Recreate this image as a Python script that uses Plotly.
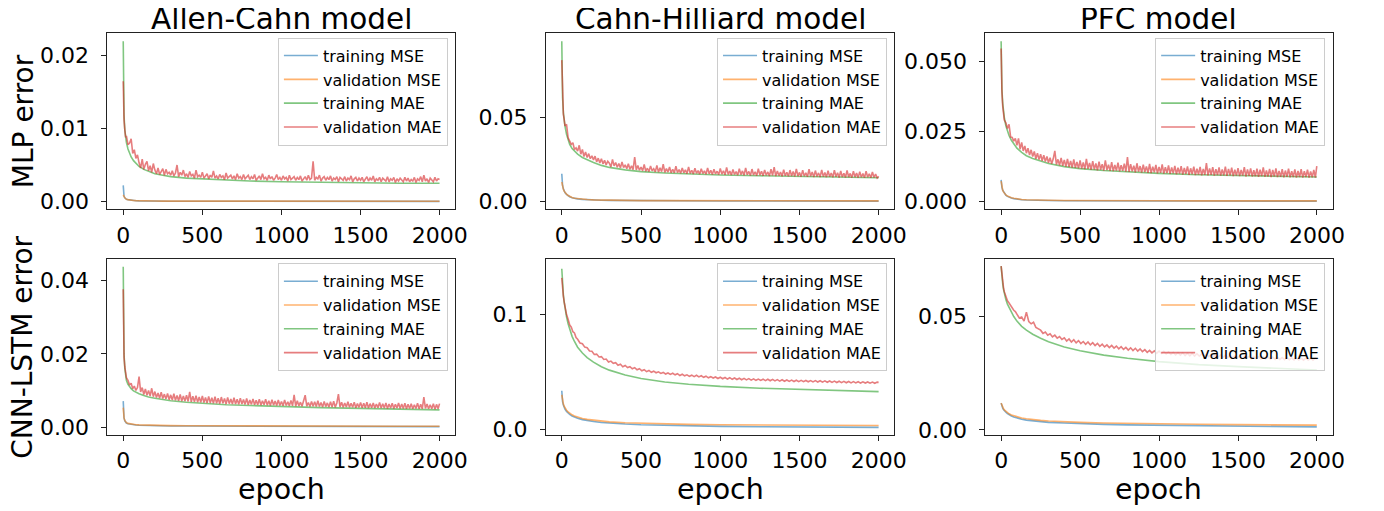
import plotly.graph_objects as go

# ---------------- data ----------------
epochs_smooth = [0, 2, 5, 10, 15, 20, 30, 40, 50, 65, 80, 100, 130, 160, 200, 250,
                 300, 400, 500, 650, 800, 1000, 1250, 1500, 1750, 1999]
epochs_early = [0, 2, 5, 10, 15, 20, 30, 40, 50, 60, 70, 80, 90]
epochs_dense = epochs_early + list(range(100, 2000, 10)) + [1999]
epochs_noisy = epochs_early + list(range(100, 2000, 15)) + [1999]

col_titles = ["Allen-Cahn model", "Cahn-Hilliard model", "PFC model"]
row_labels = ["MLP error", "CNN-LSTM error"]
series_names = ["training MSE", "validation MSE", "training MAE", "validation MAE"]
x_ticks = [0, 500, 1000, 1500, 2000]
x_tick_text = ["0", "500", "1000", "1500", "2000"]

# Allen-Cahn, MLP
ac_mlp_train_mse = [0.0022, 0.0009, 0.0007, 0.0005, 0.0004, 0.0003, 0.00025, 0.0002, 0.00016, 0.00012, 0.0001, 0.00008, 0.00006,
                    0.00005, 0.00004, 0.00003, 0.00003, 0.00002, 0.00002, 0.00002, 0.00002, 0.00001, 0.00001, 0.00001, 0.00001, 0.00001]
ac_mlp_val_mse = [0.0009, 0.0008, 0.0006, 0.0005, 0.0004, 0.0003, 0.00025, 0.0002, 0.00017, 0.00013, 0.00011, 0.00009, 0.00007,
                  0.00006, 0.00005, 0.00004, 0.00004, 0.00003, 0.00003, 0.00003, 0.00002, 0.00002, 0.00002, 0.00002, 0.00002, 0.00002]
ac_mlp_train_mae = [0.0220, 0.0150, 0.0118, 0.0098, 0.0088, 0.0081, 0.0072, 0.0066, 0.0061, 0.0056, 0.0052, 0.0048, 0.0044,
                    0.0041, 0.0038, 0.0036, 0.0034, 0.0032, 0.0031, 0.0029, 0.0028, 0.0027, 0.0026, 0.0026, 0.0025, 0.0025]
ac_mlp_val_mae = [0.0165, 0.0125, 0.0112, 0.0098, 0.0088, 0.0090, 0.0078, 0.0080, 0.0086, 0.0066, 0.0071, 0.0059, 0.0064,
                  0.0053, 0.0046, 0.0058, 0.0044, 0.0051, 0.0055, 0.0042, 0.0049, 0.0040, 0.0052,
                  0.0043, 0.0038, 0.0046, 0.0037, 0.0041, 0.0045, 0.0036, 0.0044, 0.0038, 0.0040,
                  0.0036, 0.0042, 0.0035, 0.0039, 0.0050, 0.0034, 0.0040, 0.0036, 0.0043, 0.0034,
                  0.0038, 0.0033, 0.0041, 0.0035, 0.0037, 0.0032, 0.0043, 0.0034, 0.0036, 0.0033,
                  0.0040, 0.0032, 0.0035, 0.0038, 0.0031, 0.0036, 0.0033, 0.0042, 0.0032, 0.0035,
                  0.0031, 0.0037, 0.0033, 0.0035, 0.0030, 0.0039, 0.0032, 0.0034, 0.0036, 0.0031,
                  0.0035, 0.0030, 0.0038, 0.0032, 0.0034, 0.0030, 0.0037, 0.0031, 0.0033, 0.0036,
                  0.0030, 0.0034, 0.0031, 0.0037, 0.0029, 0.0033, 0.0035, 0.0030, 0.0038, 0.0031,
                  0.0033, 0.0029, 0.0036, 0.0031, 0.0034, 0.0029, 0.0032, 0.0037, 0.0030, 0.0033,
                  0.0029, 0.0035, 0.0031, 0.0033, 0.0028, 0.0036, 0.0030, 0.0032, 0.0034, 0.0029,
                  0.0033, 0.0030, 0.0035, 0.0028, 0.0032, 0.0034, 0.0029, 0.0036, 0.0030, 0.0032,
                  0.0055, 0.0029, 0.0033, 0.0031, 0.0036, 0.0028, 0.0032, 0.0034, 0.0029, 0.0033,
                  0.0030, 0.0035, 0.0028, 0.0032, 0.0030, 0.0034, 0.0027, 0.0033, 0.0031, 0.0029,
                  0.0034, 0.0028, 0.0032, 0.0030, 0.0035, 0.0027, 0.0031, 0.0033, 0.0028, 0.0032,
                  0.0029, 0.0033, 0.0027, 0.0031, 0.0034, 0.0028, 0.0032, 0.0029, 0.0035, 0.0027,
                  0.0031, 0.0029, 0.0033, 0.0027, 0.0032, 0.0030, 0.0028, 0.0034, 0.0027, 0.0031,
                  0.0029, 0.0033, 0.0026, 0.0031, 0.0028, 0.0032, 0.0030, 0.0027, 0.0033, 0.0028,
                  0.0032, 0.0027, 0.0030, 0.0028, 0.0033, 0.0026, 0.0031, 0.0029, 0.0034, 0.0027,
                  0.0036, 0.0028, 0.0031, 0.0026, 0.0032, 0.0029, 0.0027, 0.0033, 0.0028, 0.0031,
                  0.0030]

# Cahn-Hilliard, MLP
ch_mlp_train_mse = [0.0165, 0.0120, 0.0095, 0.0075, 0.0062, 0.0053, 0.0042, 0.0034, 0.0028, 0.0022, 0.0018, 0.0015, 0.0012,
                    0.0010, 0.0008, 0.0007, 0.0006, 0.0005, 0.0004, 0.00035, 0.0003, 0.00028, 0.00025, 0.00022, 0.0002, 0.0002]
ch_mlp_val_mse = [0.0116, 0.0105, 0.0090, 0.0072, 0.0061, 0.0053, 0.0043, 0.0035, 0.0029, 0.0023, 0.0019, 0.0016, 0.0013,
                  0.0011, 0.0009, 0.0008, 0.0007, 0.0006, 0.0005, 0.00045, 0.0004, 0.00038, 0.00035, 0.00033, 0.0003, 0.0003]
ch_mlp_train_mae = [0.0956, 0.075, 0.062, 0.053, 0.048, 0.045, 0.040, 0.037, 0.034, 0.0315, 0.0298, 0.0282, 0.0262,
                    0.0247, 0.0232, 0.0215, 0.0203, 0.0188, 0.0178, 0.0170, 0.0164, 0.0158, 0.0153, 0.0149, 0.0145, 0.0141]
ch_mlp_val_mae = [0.0843, 0.072, 0.061, 0.052, 0.049, 0.045, 0.046, 0.038, 0.036, 0.034, 0.035, 0.031, 0.032,
                  0.0300, 0.0335, 0.0282, 0.0310, 0.0268, 0.0295, 0.0262, 0.0285, 0.0255, 0.0272,
                  0.0248, 0.0270, 0.0236, 0.0258, 0.0230, 0.0255, 0.0224, 0.0245, 0.0218, 0.0240,
                  0.0228, 0.0206, 0.0250, 0.0212, 0.0232, 0.0204, 0.0226, 0.0200, 0.0235, 0.0202,
                  0.0218, 0.0195, 0.0225, 0.0192, 0.0212, 0.0190, 0.0265, 0.0188, 0.0215, 0.0186,
                  0.0205, 0.0182, 0.0220, 0.0180, 0.0198, 0.0178, 0.0212, 0.0183, 0.0195, 0.0176,
                  0.0215, 0.0175, 0.0200, 0.0178, 0.0222, 0.0173, 0.0196, 0.0175, 0.0205, 0.0171,
                  0.0192, 0.0170, 0.0210, 0.0172, 0.0190, 0.0168, 0.0200, 0.0171, 0.0188, 0.0166,
                  0.0206, 0.0167, 0.0186, 0.0164, 0.0198, 0.0168, 0.0184, 0.0163, 0.0195, 0.0166,
                  0.0182, 0.0162, 0.0200, 0.0165, 0.0185, 0.0161, 0.0192, 0.0164, 0.0180, 0.0160,
                  0.0197, 0.0163, 0.0183, 0.0159, 0.0203, 0.0162, 0.0181, 0.0158, 0.0190, 0.0161,
                  0.0178, 0.0157, 0.0195, 0.0160, 0.0182, 0.0156, 0.0200, 0.0159, 0.0179, 0.0155,
                  0.0193, 0.0158, 0.0177, 0.0154, 0.0196, 0.0157, 0.0180, 0.0153, 0.0188, 0.0156,
                  0.0176, 0.0152, 0.0192, 0.0155, 0.0205, 0.0151, 0.0182, 0.0154, 0.0175, 0.0150,
                  0.0190, 0.0153, 0.0174, 0.0150, 0.0187, 0.0152, 0.0178, 0.0149, 0.0194, 0.0151,
                  0.0173, 0.0148, 0.0186, 0.0151, 0.0171, 0.0147, 0.0192, 0.0150, 0.0175, 0.0146,
                  0.0184, 0.0149, 0.0170, 0.0146, 0.0188, 0.0148, 0.0172, 0.0145, 0.0183, 0.0147,
                  0.0169, 0.0144, 0.0186, 0.0147, 0.0171, 0.0143, 0.0182, 0.0146, 0.0168, 0.0143,
                  0.0185, 0.0145, 0.0167, 0.0142, 0.0180, 0.0145, 0.0170, 0.0142, 0.0178, 0.0144,
                  0.0166, 0.0141, 0.0181, 0.0144, 0.0165, 0.0141, 0.0176, 0.0143, 0.0163, 0.0140,
                  0.0150]

# PFC, MLP
pfc_mlp_train_mse = [0.0077, 0.0062, 0.0050, 0.0040, 0.0034, 0.0029, 0.0022, 0.0018, 0.0015, 0.0012, 0.0010, 0.0008, 0.0006,
                     0.0005, 0.0004, 0.00035, 0.0003, 0.00025, 0.0002, 0.00018, 0.00015, 0.00013, 0.00012, 0.0001, 0.0001, 0.0001]
pfc_mlp_val_mse = [0.0072, 0.0060, 0.0049, 0.0040, 0.0034, 0.0030, 0.0023, 0.0019, 0.0016, 0.0013, 0.0011, 0.0009, 0.0007,
                   0.0006, 0.0005, 0.00045, 0.0004, 0.00035, 0.0003, 0.00028, 0.00025, 0.00023, 0.0002, 0.0002, 0.00018, 0.00018]
pfc_mlp_train_mae = [0.0571, 0.047, 0.040, 0.035, 0.032, 0.030, 0.027, 0.0250, 0.0235, 0.0218, 0.0204, 0.0190, 0.0175,
                     0.0163, 0.0153, 0.0143, 0.0135, 0.0124, 0.0117, 0.0110, 0.0105, 0.0100, 0.0095, 0.0092, 0.0089, 0.0087]
pfc_mlp_val_mae = [0.0545, 0.046, 0.039, 0.034, 0.032, 0.029, 0.028, 0.026, 0.0275, 0.0230, 0.0228, 0.0215, 0.0225,
                   0.0200, 0.0225, 0.0186, 0.0210, 0.0180, 0.0198, 0.0172, 0.0190, 0.0165, 0.0184,
                   0.0160, 0.0178, 0.0152, 0.0172, 0.0149, 0.0168, 0.0145, 0.0165, 0.0142, 0.0160,
                   0.0138, 0.0156, 0.0134, 0.0152, 0.0180, 0.0132, 0.0150, 0.0129, 0.0155, 0.0127,
                   0.0148, 0.0124, 0.0152, 0.0123, 0.0144, 0.0121, 0.0150, 0.0120, 0.0141, 0.0118,
                   0.0146, 0.0117, 0.0139, 0.0115, 0.0152, 0.0116, 0.0137, 0.0113, 0.0144, 0.0114,
                   0.0135, 0.0111, 0.0142, 0.0113, 0.0133, 0.0110, 0.0146, 0.0112, 0.0131, 0.0109,
                   0.0140, 0.0108, 0.0130, 0.0110, 0.0138, 0.0107, 0.0129, 0.0109, 0.0135, 0.0106,
                   0.0158, 0.0105, 0.0133, 0.0107, 0.0127, 0.0104, 0.0136, 0.0106, 0.0126, 0.0103,
                   0.0131, 0.0105, 0.0125, 0.0102, 0.0134, 0.0101, 0.0124, 0.0104, 0.0130, 0.0100,
                   0.0123, 0.0102, 0.0132, 0.0099, 0.0122, 0.0101, 0.0128, 0.0098, 0.0121, 0.0100,
                   0.0127, 0.0097, 0.0120, 0.0099, 0.0126, 0.0096, 0.0119, 0.0098, 0.0125, 0.0095,
                   0.0118, 0.0097, 0.0124, 0.0094, 0.0117, 0.0096, 0.0123, 0.0093, 0.0116, 0.0095,
                   0.0137, 0.0093, 0.0118, 0.0095, 0.0122, 0.0092, 0.0115, 0.0094, 0.0121, 0.0092,
                   0.0114, 0.0093, 0.0124, 0.0091, 0.0116, 0.0093, 0.0120, 0.0090, 0.0113, 0.0092,
                   0.0119, 0.0090, 0.0112, 0.0092, 0.0122, 0.0089, 0.0114, 0.0091, 0.0118, 0.0089,
                   0.0111, 0.0090, 0.0117, 0.0088, 0.0113, 0.0090, 0.0121, 0.0088, 0.0110, 0.0089,
                   0.0116, 0.0087, 0.0112, 0.0089, 0.0118, 0.0087, 0.0109, 0.0088, 0.0115, 0.0086,
                   0.0110, 0.0088, 0.0117, 0.0086, 0.0108, 0.0087, 0.0114, 0.0085, 0.0109, 0.0087,
                   0.0115, 0.0085, 0.0108, 0.0087, 0.0113, 0.0085, 0.0107, 0.0086, 0.0112, 0.0085,
                   0.0126]

# Allen-Cahn, CNN-LSTM
ac_cnn_train_mse = [0.0071, 0.0040, 0.0025, 0.0017, 0.0013, 0.0011, 0.0009, 0.0008, 0.0007, 0.0006, 0.00055, 0.0005, 0.00045,
                    0.0004, 0.00036, 0.00033, 0.0003, 0.00027, 0.00025, 0.00022, 0.0002, 0.00018, 0.00016, 0.00015, 0.00014, 0.00013]
ac_cnn_val_mse = [0.0053, 0.0038, 0.0025, 0.0018, 0.0014, 0.0012, 0.0010, 0.0009, 0.0008, 0.0007, 0.00065, 0.0006, 0.00055,
                  0.0005, 0.00046, 0.00043, 0.0004, 0.00037, 0.00035, 0.00032, 0.0003, 0.00028, 0.00026, 0.00025, 0.00024, 0.00023]
ac_cnn_train_mae = [0.0438, 0.028, 0.020, 0.0160, 0.0140, 0.0128, 0.0117, 0.0110, 0.0105, 0.0099, 0.0095, 0.0091, 0.0086,
                    0.0082, 0.0079, 0.0075, 0.0072, 0.0068, 0.0065, 0.0061, 0.0059, 0.0056, 0.0053, 0.0051, 0.0049, 0.0047]
ac_cnn_val_mae = [0.0377, 0.025, 0.019, 0.0165, 0.0145, 0.0135, 0.0128, 0.0115, 0.0120, 0.0105, 0.0112, 0.0100, 0.0108,
                  0.0138, 0.0096, 0.0108, 0.0089, 0.0104, 0.0087, 0.0100, 0.0085, 0.0106, 0.0083,
                  0.0097, 0.0081, 0.0093, 0.0079, 0.0095, 0.0078, 0.0090, 0.0077, 0.0092, 0.0075,
                  0.0088, 0.0074, 0.0091, 0.0073, 0.0086, 0.0072, 0.0089, 0.0071, 0.0085, 0.0071,
                  0.0087, 0.0070, 0.0096, 0.0069, 0.0084, 0.0069, 0.0086, 0.0068, 0.0082, 0.0068,
                  0.0085, 0.0067, 0.0081, 0.0066, 0.0084, 0.0066, 0.0080, 0.0065, 0.0083, 0.0065,
                  0.0079, 0.0064, 0.0082, 0.0065, 0.0078, 0.0063, 0.0081, 0.0064, 0.0077, 0.0063,
                  0.0080, 0.0063, 0.0076, 0.0062, 0.0079, 0.0063, 0.0075, 0.0062, 0.0078, 0.0061,
                  0.0074, 0.0062, 0.0077, 0.0061, 0.0073, 0.0061, 0.0076, 0.0060, 0.0072, 0.0061,
                  0.0076, 0.0060, 0.0072, 0.0059, 0.0075, 0.0060, 0.0071, 0.0059, 0.0074, 0.0059,
                  0.0070, 0.0058, 0.0074, 0.0059, 0.0069, 0.0058, 0.0073, 0.0058, 0.0088, 0.0057,
                  0.0072, 0.0058, 0.0068, 0.0057, 0.0071, 0.0087, 0.0057, 0.0067, 0.0056, 0.0070,
                  0.0057, 0.0069, 0.0056, 0.0072, 0.0056, 0.0067, 0.0055, 0.0070, 0.0056, 0.0066,
                  0.0055, 0.0069, 0.0055, 0.0071, 0.0054, 0.0066, 0.0090, 0.0055, 0.0068, 0.0054,
                  0.0066, 0.0055, 0.0069, 0.0054, 0.0065, 0.0054, 0.0068, 0.0053, 0.0064, 0.0054,
                  0.0067, 0.0053, 0.0065, 0.0053, 0.0068, 0.0052, 0.0064, 0.0053, 0.0066, 0.0052,
                  0.0063, 0.0053, 0.0067, 0.0052, 0.0064, 0.0052, 0.0066, 0.0051, 0.0063, 0.0052,
                  0.0065, 0.0051, 0.0062, 0.0052, 0.0066, 0.0051, 0.0063, 0.0051, 0.0065, 0.0050,
                  0.0062, 0.0051, 0.0064, 0.0050, 0.0061, 0.0051, 0.0065, 0.0050, 0.0062, 0.0050,
                  0.0082, 0.0051, 0.0063, 0.0050, 0.0061, 0.0050, 0.0064, 0.0049, 0.0062, 0.0050,
                  0.0064]

# Cahn-Hilliard, CNN-LSTM
ch_cnn_train_mse = [0.0335, 0.027, 0.024, 0.021, 0.019, 0.0175, 0.0155, 0.014, 0.0128, 0.0115, 0.0105, 0.0095, 0.0083,
                    0.0074, 0.0066, 0.0058, 0.0052, 0.0044, 0.0038, 0.0032, 0.0028, 0.0024, 0.0021, 0.0018, 0.0016, 0.0015]
ch_cnn_val_mse = [0.0300, 0.027, 0.0245, 0.0218, 0.020, 0.0185, 0.0165, 0.0150, 0.0138, 0.0125, 0.0115, 0.0105, 0.0093,
                  0.0085, 0.0077, 0.0069, 0.0063, 0.0055, 0.0050, 0.0045, 0.0041, 0.0038, 0.0035, 0.0033, 0.0032, 0.0031]
ch_cnn_train_mae = [0.140, 0.132, 0.125, 0.117, 0.111, 0.106, 0.098, 0.092, 0.087, 0.081, 0.0765, 0.0715, 0.0665,
                    0.0625, 0.0585, 0.0545, 0.0515, 0.0472, 0.0442, 0.0412, 0.0392, 0.0373, 0.0357, 0.0345, 0.0335, 0.0327]
ch_cnn_val_mae = [0.132, 0.127, 0.122, 0.116, 0.111, 0.107, 0.100, 0.096, 0.091, 0.089, 0.085, 0.084, 0.080,
                  0.0785, 0.0752, 0.0745, 0.0716, 0.0710, 0.0682, 0.0680, 0.0652, 0.0655, 0.0630,
                  0.0633, 0.0608, 0.0612, 0.0586, 0.0594, 0.0575, 0.0580, 0.0558, 0.0566, 0.0545,
                  0.0556, 0.0538, 0.0545, 0.0527, 0.0537, 0.0518, 0.0527, 0.0509, 0.0519, 0.0502,
                  0.0512, 0.0496, 0.0506, 0.0492, 0.0500, 0.0486, 0.0495, 0.0481, 0.0490, 0.0478,
                  0.0488, 0.0474, 0.0484, 0.0468, 0.0479, 0.0465, 0.0474, 0.0461, 0.0471, 0.0458,
                  0.0470, 0.0456, 0.0466, 0.0452, 0.0462, 0.0448, 0.0458, 0.0446, 0.0455, 0.0442,
                  0.0453, 0.0440, 0.0451, 0.0437, 0.0449, 0.0435, 0.0446, 0.0433, 0.0444, 0.0431,
                  0.0443, 0.0430, 0.0441, 0.0428, 0.0439, 0.0426, 0.0437, 0.0425, 0.0436, 0.0423,
                  0.0435, 0.0422, 0.0434, 0.0421, 0.0432, 0.0419, 0.0431, 0.0418, 0.0429, 0.0417,
                  0.0428, 0.0416, 0.0427, 0.0415, 0.0426, 0.0414, 0.0425, 0.0413, 0.0424, 0.0412,
                  0.0423, 0.0411, 0.0422, 0.0410, 0.0421, 0.0409, 0.0420, 0.0408, 0.0419, 0.0407,
                  0.0418, 0.0406, 0.0417, 0.0405, 0.0416, 0.0404, 0.0415, 0.0403, 0.0414, 0.0402,
                  0.0413, 0.0402, 0.0412, 0.0401, 0.0411, 0.0400, 0.0410,
                  0.0408]

# PFC, CNN-LSTM
pfc_cnn_train_mse = [0.0118, 0.0112, 0.0105, 0.0096, 0.0090, 0.0085, 0.0078, 0.0072, 0.0067, 0.0061, 0.0057, 0.0052, 0.0047,
                     0.0043, 0.0040, 0.0036, 0.0033, 0.0030, 0.0027, 0.0024, 0.0022, 0.0020, 0.0018, 0.0016, 0.0014, 0.0013]
pfc_cnn_val_mse = [0.0118, 0.0113, 0.0107, 0.0099, 0.0093, 0.0088, 0.0081, 0.0076, 0.0071, 0.0066, 0.0062, 0.0057, 0.0052,
                   0.0049, 0.0045, 0.0042, 0.0039, 0.0035, 0.0033, 0.0030, 0.0028, 0.0027, 0.0025, 0.0023, 0.0022, 0.0021]
pfc_cnn_train_mae = [0.0723, 0.070, 0.0675, 0.0645, 0.0620, 0.0600, 0.0575, 0.0555, 0.0540, 0.0518, 0.0500, 0.0480, 0.0457,
                     0.0440, 0.0422, 0.0404, 0.0389, 0.0366, 0.0349, 0.0330, 0.0316, 0.0301, 0.0288, 0.0279, 0.0271, 0.0264]
pfc_cnn_val_mae = [0.0723, 0.0705, 0.0680, 0.0652, 0.0628, 0.0610, 0.0585, 0.0570, 0.0560, 0.0548, 0.0540, 0.0528, 0.0522,
                   0.0512, 0.0494, 0.0498, 0.0480, 0.0519, 0.0478, 0.0468, 0.0475, 0.0452, 0.0446,
                   0.0440, 0.0426, 0.0432, 0.0418, 0.0424, 0.0410, 0.0418, 0.0405, 0.0412, 0.0399,
                   0.0406, 0.0392, 0.0401, 0.0388, 0.0398, 0.0384, 0.0394, 0.0381, 0.0390, 0.0378,
                   0.0388, 0.0375, 0.0385, 0.0372, 0.0382, 0.0369, 0.0378, 0.0366, 0.0375, 0.0363,
                   0.0373, 0.0361, 0.0370, 0.0358, 0.0367, 0.0355, 0.0364, 0.0352, 0.0362, 0.0350,
                   0.0360, 0.0348, 0.0357, 0.0345, 0.0354, 0.0342, 0.0351, 0.0340, 0.0349, 0.0338,
                   0.0348, 0.0337, 0.0346, 0.0335, 0.0344, 0.0333, 0.0342, 0.0331, 0.0341, 0.0330,
                   0.0340, 0.0328, 0.0338, 0.0327, 0.0337, 0.0326, 0.0336, 0.0325, 0.0335, 0.0324,
                   0.0334, 0.0323, 0.0333, 0.0322, 0.0332, 0.0321, 0.0331, 0.0320, 0.0330, 0.0319,
                   0.0329, 0.0318, 0.0328, 0.0317, 0.0327, 0.0316, 0.0326, 0.0316, 0.0325, 0.0315,
                   0.0324, 0.0314, 0.0323, 0.0313, 0.0322, 0.0313, 0.0321, 0.0312, 0.0321, 0.0311,
                   0.0320, 0.0311, 0.0319, 0.0310, 0.0319, 0.0310, 0.0318, 0.0309, 0.0318, 0.0309,
                   0.0317, 0.0308, 0.0317, 0.0308, 0.0316, 0.0307, 0.0316,
                   0.0313]

# y tick values / labels per panel
y_ticks = [[0.0, 0.01, 0.02], [0.0, 0.05], [0.0, 0.025, 0.05],
           [0.0, 0.02, 0.04], [0.0, 0.1], [0.0, 0.05]]
y_tick_text = [["0.00", "0.01", "0.02"], ["0.00", "0.05"], ["0.000", "0.025", "0.050"],
               ["0.00", "0.02", "0.04"], ["0.0", "0.1"], ["0.00", "0.05"]]

# ---------------- styling / layout ----------------
OFF = 8                      # default page (body) margin around the figure
W, H = 1368, 503
SY = 511 / 519               # vertical factor between page and picture
FONT = "DejaVu Sans"
colors = ["rgba(31,119,180,0.6)", "rgba(255,127,14,0.6)", "rgba(44,160,44,0.6)", "rgba(214,39,40,0.6)"]
# axes boxes in picture pixels
x_px = [(108.3, 459.3), (550.7, 902.3), (994.0, 1344.3)]
y_px = [(33.0, 209.0), (258.3, 434.3)]
y_ranges = [[-0.0011, 0.0231], [-0.00478, 0.1004], [-0.00286, 0.0600],
            [-0.00219, 0.0460], [-0.0052, 0.1487], [-0.0023, 0.0755]]


def fx(x):
    return (x - OFF) / W


def fy(y):
    return 1 - (y / SY - OFF) / H


panels = [
    (ac_mlp_train_mse, ac_mlp_val_mse, ac_mlp_train_mae, ac_mlp_val_mae),
    (ch_mlp_train_mse, ch_mlp_val_mse, ch_mlp_train_mae, ch_mlp_val_mae),
    (pfc_mlp_train_mse, pfc_mlp_val_mse, pfc_mlp_train_mae, pfc_mlp_val_mae),
    (ac_cnn_train_mse, ac_cnn_val_mse, ac_cnn_train_mae, ac_cnn_val_mae),
    (ch_cnn_train_mse, ch_cnn_val_mse, ch_cnn_train_mae, ch_cnn_val_mae),
    (pfc_cnn_train_mse, pfc_cnn_val_mse, pfc_cnn_train_mae, pfc_cnn_val_mae),
]
val_mae_epochs = [epochs_dense, epochs_dense, epochs_dense, epochs_dense, epochs_noisy, epochs_noisy]

fig = go.Figure()
layout = dict(
    width=W, height=H, margin=dict(l=0, r=0, t=0, b=0),
    paper_bgcolor="white", plot_bgcolor="white",
    font=dict(family=FONT, color="black"),
    annotations=[],
)

axis_common = dict(showline=True, mirror=True, linecolor="#222222", linewidth=1,
                   ticks="outside", ticklen=5, tickwidth=1, tickcolor="#222222",
                   showgrid=False, zeroline=False,
                   tickfont=dict(family=FONT, size=22, color="black"))

for i, series in enumerate(panels):
    r, c = divmod(i, 3)
    sfx = "" if i == 0 else str(i + 1)
    x0, x1 = x_px[c]
    yt, yb = y_px[r]
    layout["xaxis" + sfx] = dict(axis_common, domain=[fx(x0), fx(x1)], range=[-99.95, 2098.95],
                                 tickvals=x_ticks, ticktext=x_tick_text, anchor="y" + sfx,
                                 ticklabelstandoff=1)
    layout["yaxis" + sfx] = dict(axis_common, domain=[fy(yb), fy(yt)], range=y_ranges[i],
                                 tickvals=y_ticks[i], ticktext=y_tick_text[i], anchor="x" + sfx,
                                 ticklabelstandoff=8)
    legname = "legend" + sfx
    layout[legname] = dict(x=fx(x1 - 7.5), y=fy(yt + 4.5), xanchor="right", yanchor="top",
                           xref="paper", yref="paper",
                           bgcolor="rgba(255,255,255,0.8)", bordercolor="#cccccc", borderwidth=1,
                           font=dict(family=FONT, size=16, color="black"),
                           itemwidth=34, tracegroupgap=0)
    for k in range(4):
        xs = val_mae_epochs[i] if k == 3 else epochs_smooth
        fig.add_trace(go.Scatter(x=xs, y=series[k], mode="lines", name=series_names[k],
                                 line=dict(color=colors[k], width=1.6),
                                 xaxis="x" + sfx, yaxis="y" + sfx, legend=legname,
                                 showlegend=True))

# column titles
for c, t in enumerate(col_titles):
    x0, x1 = x_px[c]
    layout["annotations"].append(dict(text=t, x=fx((x0 + x1) / 2), y=fy(18.5), xref="paper", yref="paper",
                                      xanchor="center", yanchor="middle", showarrow=False,
                                      font=dict(family=FONT, size=29.5, color="black")))
# row labels
for r, t in enumerate(row_labels):
    yt, yb = y_px[r]
    layout["annotations"].append(dict(text=t, x=fx(23), y=fy((yt + yb) / 2), xref="paper", yref="paper",
                                      xanchor="center", yanchor="middle", showarrow=False, textangle=-90,
                                      font=dict(family=FONT, size=28, color="black")))
# x labels
for c in range(3):
    x0, x1 = x_px[c]
    layout["annotations"].append(dict(text="epoch", x=fx((x0 + x1) / 2), y=fy(489), xref="paper", yref="paper",
                                      xanchor="center", yanchor="middle", showarrow=False,
                                      font=dict(family=FONT, size=28.5, color="black")))

fig.update_layout(**layout)
fig.write_html("out.html")
